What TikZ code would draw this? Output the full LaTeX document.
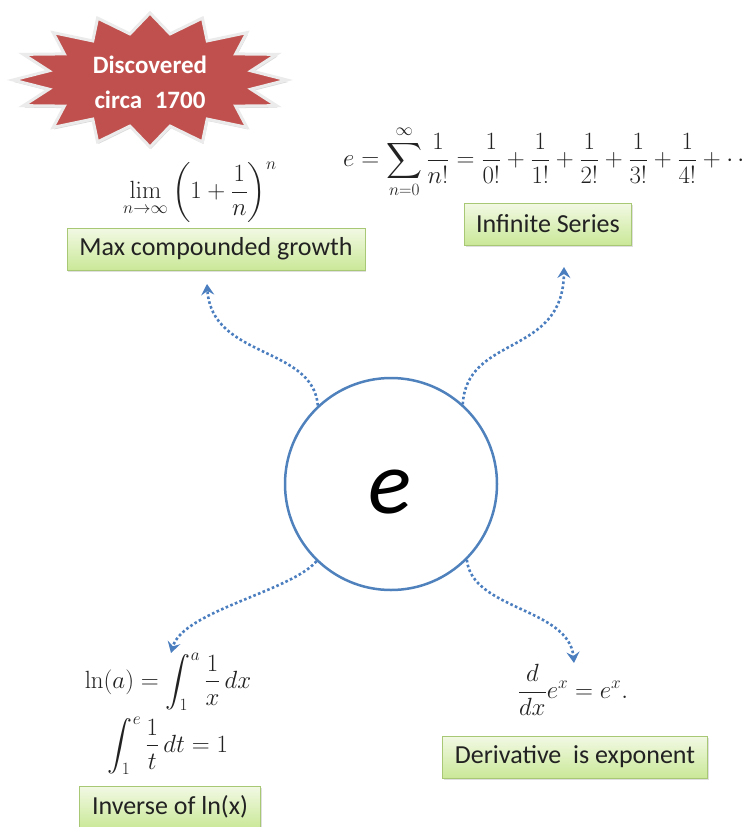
\documentclass[tikz,border=0pt]{standalone}
\usepackage{amsmath,amssymb}
\usepackage[no-math]{fontspec}
\newfontfamily\calfont{Carlito}
\usepackage{tikz}
\usetikzlibrary{arrows.meta,positioning,shadows}
\definecolor{circBlue}{RGB}{79,129,189}
\definecolor{dotBlue}{RGB}{74,126,190}
\definecolor{starRed}{RGB}{192,80,77}
\definecolor{boxTop}{RGB}{242,249,228}
\definecolor{boxBottom}{RGB}{202,232,152}
\definecolor{boxLine}{RGB}{168,200,118}
\definecolor{darkgray}{RGB}{34,34,34}

\begin{document}
\begin{tikzpicture}[x=1pt,y=-1pt,
  labelbox/.style={draw=boxLine, line width=0.9pt,
    top color=boxTop, bottom color=boxBottom,
    minimum height=42pt, inner sep=0pt, text=darkgray,
    font=\calfont\fontsize{26}{30}\selectfont,
    drop shadow={shadow xshift=1pt, shadow yshift=-2pt, opacity=0.25}},
  formula/.style={inner sep=0pt, text=darkgray,
    font=\fontsize{25}{30}\selectfont},
  flow/.style={dotBlue, line width=2.6pt,
    dash pattern=on 2.6pt off 2.4pt,
    -{Stealth[length=11pt,width=13pt,inset=4pt]}}]
  \useasboundingbox (0,0) rectangle (748,827);
  % Star burst
  \filldraw[starRed, draw=white!92!black, line width=3pt,
    drop shadow={shadow xshift=1pt, shadow yshift=-2pt, opacity=0.3}]
    plot[samples at={0,...,31}]
      ({150+(137-34*mod(\x,2))*cos(90+11.25*\x)},
       {80+(67-20*mod(\x,2))*sin(90+11.25*\x)}) -- cycle;
  \node[align=center, text=white,
    font=\calfont\bfseries\fontsize{25}{35}\selectfont]
    (found) at (150,82) {Discovered\\circa\enspace 1700};
  % Central circle
  \node[circle, draw=circBlue, fill=white, line width=2.5pt,
    minimum size=212pt, inner sep=0pt] (ecircle) at (391,484) {};
  \node[font=\calfont\itshape\fontsize{90}{90}\selectfont,
    inner sep=0pt] (elabel) at (390,492) {e};
  % Formulas
  \node[formula] (limform) at (200,192)
    {$\displaystyle\lim_{n\to\infty}\left(1+\frac{1}{n}\right)^{n}$};
  \node[formula, anchor=west] (seriesform) at (343,162)
    {$\displaystyle e=\sum_{n=0}^{\infty}\frac{1}{n!}
      =\frac{1}{0!}+\frac{1}{1!}+\frac{1}{2!}+\frac{1}{3!}
      +\frac{1}{4!}+\cdots$};
  \node[formula] (lnform) at (168,682)
    {$\displaystyle\ln(a)=\int_1^a\frac{1}{x}\,dx$};
  \node[formula] (intform) at (168,746)
    {$\displaystyle\int_1^e\frac{1}{t}\,dt=1$};
  \node[formula] (derivform) at (573,690)
    {$\displaystyle\frac{d}{dx}e^x=e^x.$};
  % Labels
  \node[labelbox, minimum width=298pt] (growbox) at (216,249)
    {Max compounded growth};
  \node[labelbox, minimum width=167pt] (seriesbox) at (548,224)
    {Infinite Series};
  \node[labelbox, minimum width=181pt] (invbox) at (170,807)
    {Inverse of ln(x)};
  \node[labelbox, minimum width=265pt] (derivbox) at (575,757)
    {Derivative\ \ is exponent};
  % Arrow ends
  \coordinate (tipgrow) at (207,284);
  \coordinate (tipseries) at (564,267);
  \coordinate (tipinv) at (171,653);
  \coordinate (tipderiv) at (574,663);
  % Connectors
  \draw[flow] (ecircle.133) .. controls +(-5,-60) and +(5,75) .. (tipgrow);
  \draw[flow] (ecircle.48) .. controls +(4,-70) and +(-1,90) .. (tipseries);
  \draw[flow] (ecircle.226) .. controls +(-25,30) and +(12,-42) .. (tipinv);
  \draw[flow] (ecircle.315) .. controls +(5,50) and +(-5,-55) .. (tipderiv);
\end{tikzpicture}
\end{document}
